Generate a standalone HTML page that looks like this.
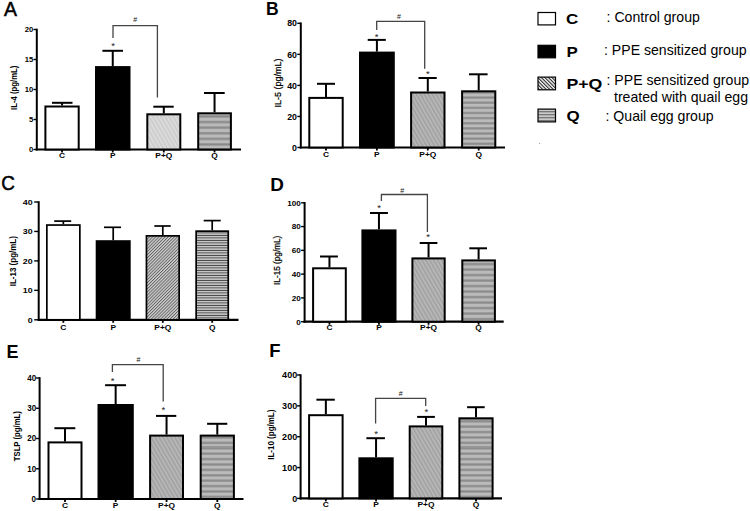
<!DOCTYPE html>
<html><head><meta charset="utf-8"><style>
html,body{margin:0;padding:0;background:#fff;}
svg{display:block;}
</style></head><body>
<svg width="750" height="511" viewBox="0 0 750 511">
<defs><pattern id="qsA" width="6" height="5.6" patternUnits="userSpaceOnUse" y="120.710"><rect width="6" height="5.6" fill="#bababa"/><rect width="6" height="2.5" fill="#8a8a8a"/><rect y="0.0" width="6" height="0.6" fill="#9c9c9c"/><rect y="1.9" width="6" height="0.6" fill="#9c9c9c"/></pattern><pattern id="qsB" width="6" height="5.13" patternUnits="userSpaceOnUse" y="101.450"><rect width="6" height="5.13" fill="#bababa"/><rect width="6" height="2.5" fill="#8a8a8a"/><rect y="0.0" width="6" height="0.6" fill="#9c9c9c"/><rect y="1.9" width="6" height="0.6" fill="#9c9c9c"/></pattern><pattern id="qsD" width="6" height="5.5" patternUnits="userSpaceOnUse" y="279.250"><rect width="6" height="5.5" fill="#bababa"/><rect width="6" height="2.5" fill="#8a8a8a"/><rect y="0.0" width="6" height="0.6" fill="#9c9c9c"/><rect y="1.9" width="6" height="0.6" fill="#9c9c9c"/></pattern><pattern id="qsE" width="6" height="5.4" patternUnits="userSpaceOnUse" y="-1.250"><rect width="6" height="5.4" fill="#bababa"/><rect width="6" height="2.5" fill="#8a8a8a"/><rect y="0.0" width="6" height="0.6" fill="#9c9c9c"/><rect y="1.9" width="6" height="0.6" fill="#9c9c9c"/></pattern><pattern id="qsF" width="6" height="5.4" patternUnits="userSpaceOnUse" y="-1.250"><rect width="6" height="5.4" fill="#bababa"/><rect width="6" height="2.5" fill="#8a8a8a"/><rect y="0.0" width="6" height="0.6" fill="#9c9c9c"/><rect y="1.9" width="6" height="0.6" fill="#9c9c9c"/></pattern><pattern id="pqL" width="3.5" height="4" patternUnits="userSpaceOnUse" patternTransform="rotate(-30)"><rect width="3.5" height="4" fill="#dadada"/><rect width="1.3" height="4" fill="#cacaca"/></pattern><pattern id="pq" width="3.4" height="4" patternUnits="userSpaceOnUse" patternTransform="rotate(-30)"><rect width="3.4" height="4" fill="#b6b6b6"/><rect width="1.4" height="4" fill="#a0a0a0"/></pattern><pattern id="pqC" width="2.2" height="2.2" patternUnits="userSpaceOnUse" patternTransform="rotate(45)"><rect width="2.2" height="2.2" fill="#d0d0d0"/><rect width="0.9" height="2.2" fill="#606060"/></pattern><pattern id="qsC" width="6" height="2.5" patternUnits="userSpaceOnUse"><rect width="6" height="2.5" fill="#ababab"/><rect y="0" width="6" height="0.8" fill="#3a3a3a"/><rect y="1.3" width="6" height="0.6" fill="#f2f2f2"/></pattern><pattern id="lpq" width="2.5" height="3" patternUnits="userSpaceOnUse" patternTransform="rotate(-45)"><rect width="2.5" height="3" fill="#eeeeee"/><rect width="1.0" height="3" fill="#222"/></pattern><pattern id="lq" width="3" height="3" patternUnits="userSpaceOnUse"><rect width="3" height="3" fill="#777"/><rect y="1.6" width="3" height="1" fill="#fff"/></pattern></defs>
<rect width="750" height="511" fill="#fff"/>
<text transform="translate(3.90,16.20) scale(0.95,1)" font-family="Liberation Sans" font-weight="normal" font-size="20.5" text-anchor="start" fill="#000" stroke="#000" stroke-width="0.55">A</text>
<line x1="36.8" y1="28.7" x2="36.8" y2="150.5" stroke="#000" stroke-width="2"/>
<line x1="33.5" y1="149.50" x2="36.8" y2="149.50" stroke="#000" stroke-width="1.4"/>
<text transform="translate(33.20,152.33) scale(0.97,1)" font-family="Liberation Sans" font-weight="bold" font-size="7.9" text-anchor="end" fill="#000">0</text>
<line x1="33.5" y1="119.50" x2="36.8" y2="119.50" stroke="#000" stroke-width="1.4"/>
<text transform="translate(33.20,122.33) scale(0.97,1)" font-family="Liberation Sans" font-weight="bold" font-size="7.9" text-anchor="end" fill="#000">5</text>
<line x1="33.5" y1="89.50" x2="36.8" y2="89.50" stroke="#000" stroke-width="1.4"/>
<text transform="translate(33.20,92.33) scale(0.97,1)" font-family="Liberation Sans" font-weight="bold" font-size="7.9" text-anchor="end" fill="#000">10</text>
<line x1="33.5" y1="59.50" x2="36.8" y2="59.50" stroke="#000" stroke-width="1.4"/>
<text transform="translate(33.20,62.33) scale(0.97,1)" font-family="Liberation Sans" font-weight="bold" font-size="7.9" text-anchor="end" fill="#000">15</text>
<line x1="33.5" y1="29.50" x2="36.8" y2="29.50" stroke="#000" stroke-width="1.4"/>
<text transform="translate(33.20,32.33) scale(0.97,1)" font-family="Liberation Sans" font-weight="bold" font-size="7.9" text-anchor="end" fill="#000">20</text>
<line x1="35.8" y1="149.5" x2="241" y2="149.5" stroke="#000" stroke-width="2.2"/>
<rect x="45.4" y="106.5" width="33.300000000000004" height="43.0" fill="#fff" stroke="#000" stroke-width="2"/>
<line x1="62.05" y1="105.5" x2="62.05" y2="102.8" stroke="#000" stroke-width="2"/>
<line x1="52" y1="102.8" x2="72.5" y2="102.8" stroke="#000" stroke-width="2"/>
<line x1="62.05" y1="149.5" x2="62.05" y2="152.5" stroke="#000" stroke-width="1.8"/>
<text transform="translate(62.05,158.30) scale(1.05,1)" font-family="Liberation Sans" font-weight="bold" font-size="8.0" text-anchor="middle" fill="#000">C</text>
<rect x="96.0" y="67.1" width="33.5" height="82.4" fill="#000" stroke="#000" stroke-width="2"/>
<line x1="112.75" y1="66.1" x2="112.75" y2="50.8" stroke="#000" stroke-width="2"/>
<line x1="102.4" y1="50.8" x2="123" y2="50.8" stroke="#000" stroke-width="2"/>
<line x1="112.75" y1="149.5" x2="112.75" y2="152.5" stroke="#000" stroke-width="1.8"/>
<text transform="translate(112.75,158.30) scale(1.05,1)" font-family="Liberation Sans" font-weight="bold" font-size="8.0" text-anchor="middle" fill="#000">P</text>
<rect x="147.3" y="114.3" width="33.0" height="35.2" fill="url(#pqL)" stroke="#000" stroke-width="2"/>
<line x1="163.8" y1="113.3" x2="163.8" y2="106.7" stroke="#000" stroke-width="2"/>
<line x1="153.3" y1="106.7" x2="173.7" y2="106.7" stroke="#000" stroke-width="2"/>
<line x1="163.8" y1="149.5" x2="163.8" y2="152.5" stroke="#000" stroke-width="1.8"/>
<text transform="translate(163.80,158.30) scale(1.05,1)" font-family="Liberation Sans" font-weight="bold" font-size="8.0" text-anchor="middle" fill="#000">P+Q</text>
<rect x="198.2" y="113.3" width="32.70000000000002" height="36.2" fill="url(#qsA)" stroke="#000" stroke-width="2"/>
<line x1="214.55" y1="112.3" x2="214.55" y2="93" stroke="#000" stroke-width="2"/>
<line x1="204" y1="93" x2="224.7" y2="93" stroke="#000" stroke-width="2"/>
<line x1="214.55" y1="149.5" x2="214.55" y2="152.5" stroke="#000" stroke-width="1.8"/>
<text transform="translate(214.55,158.30) scale(1.05,1)" font-family="Liberation Sans" font-weight="bold" font-size="8.0" text-anchor="middle" fill="#000">Q</text>
<text transform="translate(17.2,87.8) rotate(-90) scale(0.88,1)" font-family="Liberation Sans" font-weight="bold" font-size="8.8" text-anchor="middle">IL-4 (pg/mL)</text>
<polyline points="113,38 113,25.6 157.4,25.6 157.4,97.5" fill="none" stroke="#444" stroke-width="1.3"/>
<text transform="translate(135.20,22.20) scale(1.0,1)" font-family="Liberation Sans" font-size="7" text-anchor="middle" fill="#111">#</text>
<text transform="translate(113.00,48.70) scale(1.0,1)" font-family="Liberation Sans" font-size="9.5" text-anchor="middle" fill="#222">*</text>
<text transform="translate(266.00,14.60) scale(1.0,1)" font-family="Liberation Sans" font-weight="bold" font-size="17.5" text-anchor="start" fill="#000">B</text>
<line x1="300.8" y1="22.5" x2="300.8" y2="148.5" stroke="#000" stroke-width="2"/>
<line x1="297.3" y1="147.50" x2="300.8" y2="147.50" stroke="#000" stroke-width="1.4"/>
<text transform="translate(297.00,150.65) scale(1.0,1)" font-family="Liberation Sans" font-weight="bold" font-size="8.8" text-anchor="end" fill="#000">0</text>
<line x1="297.3" y1="116.45" x2="300.8" y2="116.45" stroke="#000" stroke-width="1.4"/>
<text transform="translate(297.00,119.60) scale(1.0,1)" font-family="Liberation Sans" font-weight="bold" font-size="8.8" text-anchor="end" fill="#000">20</text>
<line x1="297.3" y1="85.40" x2="300.8" y2="85.40" stroke="#000" stroke-width="1.4"/>
<text transform="translate(297.00,88.55) scale(1.0,1)" font-family="Liberation Sans" font-weight="bold" font-size="8.8" text-anchor="end" fill="#000">40</text>
<line x1="297.3" y1="54.35" x2="300.8" y2="54.35" stroke="#000" stroke-width="1.4"/>
<text transform="translate(297.00,57.50) scale(1.0,1)" font-family="Liberation Sans" font-weight="bold" font-size="8.8" text-anchor="end" fill="#000">60</text>
<line x1="297.3" y1="23.30" x2="300.8" y2="23.30" stroke="#000" stroke-width="1.4"/>
<text transform="translate(297.00,26.45) scale(1.0,1)" font-family="Liberation Sans" font-weight="bold" font-size="8.8" text-anchor="end" fill="#000">80</text>
<line x1="299.8" y1="147.5" x2="505" y2="147.5" stroke="#000" stroke-width="2.2"/>
<rect x="309.3" y="97.9" width="33.39999999999998" height="49.599999999999994" fill="#fff" stroke="#000" stroke-width="2"/>
<line x1="326.0" y1="96.9" x2="326.0" y2="83.8" stroke="#000" stroke-width="2"/>
<line x1="317" y1="83.8" x2="335" y2="83.8" stroke="#000" stroke-width="2"/>
<line x1="326.0" y1="147.5" x2="326.0" y2="150.5" stroke="#000" stroke-width="1.8"/>
<text transform="translate(326.00,156.60) scale(1.05,1)" font-family="Liberation Sans" font-weight="bold" font-size="8.0" text-anchor="middle" fill="#000">C</text>
<rect x="360.0" y="52.6" width="33.80000000000001" height="94.9" fill="#000" stroke="#000" stroke-width="2"/>
<line x1="376.9" y1="51.6" x2="376.9" y2="39.9" stroke="#000" stroke-width="2"/>
<line x1="367.7" y1="39.9" x2="385.8" y2="39.9" stroke="#000" stroke-width="2"/>
<line x1="376.9" y1="147.5" x2="376.9" y2="150.5" stroke="#000" stroke-width="1.8"/>
<text transform="translate(376.90,156.60) scale(1.05,1)" font-family="Liberation Sans" font-weight="bold" font-size="8.0" text-anchor="middle" fill="#000">P</text>
<rect x="411.1" y="92.5" width="33.39999999999998" height="55.0" fill="url(#pq)" stroke="#000" stroke-width="2"/>
<line x1="427.8" y1="91.5" x2="427.8" y2="78" stroke="#000" stroke-width="2"/>
<line x1="418.5" y1="78" x2="436.7" y2="78" stroke="#000" stroke-width="2"/>
<line x1="427.8" y1="147.5" x2="427.8" y2="150.5" stroke="#000" stroke-width="1.8"/>
<text transform="translate(427.80,156.60) scale(1.05,1)" font-family="Liberation Sans" font-weight="bold" font-size="8.0" text-anchor="middle" fill="#000">P+Q</text>
<rect x="462.1" y="91.3" width="33.19999999999999" height="56.2" fill="url(#qsB)" stroke="#000" stroke-width="2"/>
<line x1="478.70000000000005" y1="90.3" x2="478.70000000000005" y2="74.3" stroke="#000" stroke-width="2"/>
<line x1="469" y1="74.3" x2="487.6" y2="74.3" stroke="#000" stroke-width="2"/>
<line x1="478.70000000000005" y1="147.5" x2="478.70000000000005" y2="150.5" stroke="#000" stroke-width="1.8"/>
<text transform="translate(478.70,156.60) scale(1.05,1)" font-family="Liberation Sans" font-weight="bold" font-size="8.0" text-anchor="middle" fill="#000">Q</text>
<text transform="translate(281,83) rotate(-90) scale(1.02,1)" font-family="Liberation Sans" font-weight="normal" font-size="8.8" text-anchor="middle" stroke="#000" stroke-width="0.25">IL-5 (pg/mL)</text>
<polyline points="376.7,29.9 376.7,21.3 424.7,21.3 424.7,68.7" fill="none" stroke="#444" stroke-width="1.3"/>
<text transform="translate(399.00,19.00) scale(1.0,1)" font-family="Liberation Sans" font-size="7" text-anchor="middle" fill="#111">#</text>
<text transform="translate(376.70,39.90) scale(1.0,1)" font-family="Liberation Sans" font-size="9.5" text-anchor="middle" fill="#222">*</text>
<text transform="translate(427.90,76.90) scale(1.0,1)" font-family="Liberation Sans" font-size="9.5" text-anchor="middle" fill="#222">*</text>
<text transform="translate(1.20,190.20) scale(0.9,1)" font-family="Liberation Sans" font-weight="normal" font-size="21" text-anchor="start" fill="#000" stroke="#000" stroke-width="0.55">C</text>
<line x1="38.7" y1="201.2" x2="38.7" y2="320.8" stroke="#000" stroke-width="2"/>
<line x1="34.2" y1="319.80" x2="38.7" y2="319.80" stroke="#000" stroke-width="1.4"/>
<text transform="translate(32.60,322.56) scale(1.15,1)" font-family="Liberation Sans" font-weight="bold" font-size="7.7" text-anchor="end" fill="#000">0</text>
<line x1="34.2" y1="290.35" x2="38.7" y2="290.35" stroke="#000" stroke-width="1.4"/>
<text transform="translate(32.60,293.11) scale(1.15,1)" font-family="Liberation Sans" font-weight="bold" font-size="7.7" text-anchor="end" fill="#000">10</text>
<line x1="34.2" y1="260.90" x2="38.7" y2="260.90" stroke="#000" stroke-width="1.4"/>
<text transform="translate(32.60,263.66) scale(1.15,1)" font-family="Liberation Sans" font-weight="bold" font-size="7.7" text-anchor="end" fill="#000">20</text>
<line x1="34.2" y1="231.45" x2="38.7" y2="231.45" stroke="#000" stroke-width="1.4"/>
<text transform="translate(32.60,234.21) scale(1.15,1)" font-family="Liberation Sans" font-weight="bold" font-size="7.7" text-anchor="end" fill="#000">30</text>
<line x1="34.2" y1="202.00" x2="38.7" y2="202.00" stroke="#000" stroke-width="1.4"/>
<text transform="translate(32.60,204.76) scale(1.15,1)" font-family="Liberation Sans" font-weight="bold" font-size="7.7" text-anchor="end" fill="#000">40</text>
<line x1="37.7" y1="319.8" x2="238.5" y2="319.8" stroke="#000" stroke-width="2.2"/>
<rect x="46.85" y="225.04999999999998" width="33.0" height="94.75000000000003" fill="#fff" stroke="#000" stroke-width="1.7"/>
<line x1="63.35" y1="224.2" x2="63.35" y2="221.1" stroke="#000" stroke-width="1.7"/>
<line x1="54.2" y1="221.1" x2="71.2" y2="221.1" stroke="#000" stroke-width="1.7"/>
<line x1="63.35" y1="319.8" x2="63.35" y2="322.8" stroke="#000" stroke-width="1.8"/>
<text transform="translate(63.35,330.00) scale(1.05,1)" font-family="Liberation Sans" font-weight="bold" font-size="8.0" text-anchor="middle" fill="#000">C</text>
<rect x="96.55" y="241.04999999999998" width="33.29999999999998" height="78.75000000000003" fill="#000" stroke="#000" stroke-width="1.7"/>
<line x1="113.19999999999999" y1="240.2" x2="113.19999999999999" y2="227.3" stroke="#000" stroke-width="1.7"/>
<line x1="104" y1="227.3" x2="121" y2="227.3" stroke="#000" stroke-width="1.7"/>
<line x1="113.19999999999999" y1="319.8" x2="113.19999999999999" y2="322.8" stroke="#000" stroke-width="1.8"/>
<text transform="translate(113.20,330.00) scale(1.05,1)" font-family="Liberation Sans" font-weight="bold" font-size="8.0" text-anchor="middle" fill="#000">P</text>
<rect x="146.45" y="235.85" width="32.7" height="83.95000000000002" fill="url(#pqC)" stroke="#000" stroke-width="1.7"/>
<line x1="162.8" y1="235" x2="162.8" y2="226" stroke="#000" stroke-width="1.7"/>
<line x1="154.3" y1="226" x2="170.7" y2="226" stroke="#000" stroke-width="1.7"/>
<line x1="162.8" y1="319.8" x2="162.8" y2="322.8" stroke="#000" stroke-width="1.8"/>
<text transform="translate(162.80,330.00) scale(1.05,1)" font-family="Liberation Sans" font-weight="bold" font-size="8.0" text-anchor="middle" fill="#000">P+Q</text>
<rect x="196.15" y="231.15" width="32.09999999999998" height="88.65" fill="url(#qsC)" stroke="#000" stroke-width="1.7"/>
<line x1="212.2" y1="230.3" x2="212.2" y2="220.6" stroke="#000" stroke-width="1.7"/>
<line x1="203.7" y1="220.6" x2="220.7" y2="220.6" stroke="#000" stroke-width="1.7"/>
<line x1="212.2" y1="319.8" x2="212.2" y2="322.8" stroke="#000" stroke-width="1.8"/>
<text transform="translate(212.20,330.00) scale(1.05,1)" font-family="Liberation Sans" font-weight="bold" font-size="8.0" text-anchor="middle" fill="#000">Q</text>
<text transform="translate(16.0,261.2) rotate(-90) scale(0.91,1)" font-family="Liberation Sans" font-weight="bold" font-size="8.8" text-anchor="middle">IL-13 (pg/mL)</text>
<text transform="translate(270.20,191.40) scale(1.05,1)" font-family="Liberation Sans" font-weight="bold" font-size="18" text-anchor="start" fill="#000">D</text>
<line x1="304.6" y1="202.0" x2="304.6" y2="322.7" stroke="#000" stroke-width="2"/>
<line x1="301.1" y1="321.70" x2="304.6" y2="321.70" stroke="#000" stroke-width="1.4"/>
<text transform="translate(300.80,324.53) scale(1.03,1)" font-family="Liberation Sans" font-weight="bold" font-size="7.9" text-anchor="end" fill="#000">0</text>
<line x1="301.1" y1="297.92" x2="304.6" y2="297.92" stroke="#000" stroke-width="1.4"/>
<text transform="translate(300.80,300.75) scale(1.03,1)" font-family="Liberation Sans" font-weight="bold" font-size="7.9" text-anchor="end" fill="#000">20</text>
<line x1="301.1" y1="274.14" x2="304.6" y2="274.14" stroke="#000" stroke-width="1.4"/>
<text transform="translate(300.80,276.97) scale(1.03,1)" font-family="Liberation Sans" font-weight="bold" font-size="7.9" text-anchor="end" fill="#000">40</text>
<line x1="301.1" y1="250.36" x2="304.6" y2="250.36" stroke="#000" stroke-width="1.4"/>
<text transform="translate(300.80,253.19) scale(1.03,1)" font-family="Liberation Sans" font-weight="bold" font-size="7.9" text-anchor="end" fill="#000">60</text>
<line x1="301.1" y1="226.58" x2="304.6" y2="226.58" stroke="#000" stroke-width="1.4"/>
<text transform="translate(300.80,229.41) scale(1.03,1)" font-family="Liberation Sans" font-weight="bold" font-size="7.9" text-anchor="end" fill="#000">80</text>
<line x1="301.1" y1="202.80" x2="304.6" y2="202.80" stroke="#000" stroke-width="1.4"/>
<text transform="translate(300.80,205.63) scale(1.03,1)" font-family="Liberation Sans" font-weight="bold" font-size="7.9" text-anchor="end" fill="#000">100</text>
<line x1="303.6" y1="321.7" x2="503.7" y2="321.7" stroke="#000" stroke-width="2.2"/>
<rect x="313.1" y="268.3" width="32.69999999999999" height="53.39999999999998" fill="#fff" stroke="#000" stroke-width="2"/>
<line x1="329.45000000000005" y1="267.3" x2="329.45000000000005" y2="256.5" stroke="#000" stroke-width="2"/>
<line x1="320" y1="256.5" x2="337.9" y2="256.5" stroke="#000" stroke-width="2"/>
<line x1="329.45000000000005" y1="321.7" x2="329.45000000000005" y2="324.7" stroke="#000" stroke-width="1.8"/>
<text transform="translate(329.45,330.30) scale(1.05,1)" font-family="Liberation Sans" font-weight="bold" font-size="8.0" text-anchor="middle" fill="#000">C</text>
<rect x="362.4" y="230.4" width="33.10000000000002" height="91.29999999999998" fill="#000" stroke="#000" stroke-width="2"/>
<line x1="378.95" y1="229.4" x2="378.95" y2="213" stroke="#000" stroke-width="2"/>
<line x1="370" y1="213" x2="387.9" y2="213" stroke="#000" stroke-width="2"/>
<line x1="378.95" y1="321.7" x2="378.95" y2="324.7" stroke="#000" stroke-width="1.8"/>
<text transform="translate(378.95,330.30) scale(1.05,1)" font-family="Liberation Sans" font-weight="bold" font-size="8.0" text-anchor="middle" fill="#000">P</text>
<rect x="412.4" y="258.4" width="32.30000000000001" height="63.30000000000001" fill="url(#pq)" stroke="#000" stroke-width="2"/>
<line x1="428.54999999999995" y1="257.4" x2="428.54999999999995" y2="243" stroke="#000" stroke-width="2"/>
<line x1="419.7" y1="243" x2="437.4" y2="243" stroke="#000" stroke-width="2"/>
<line x1="428.54999999999995" y1="321.7" x2="428.54999999999995" y2="324.7" stroke="#000" stroke-width="1.8"/>
<text transform="translate(428.55,330.30) scale(1.05,1)" font-family="Liberation Sans" font-weight="bold" font-size="8.0" text-anchor="middle" fill="#000">P+Q</text>
<rect x="462.3" y="260.4" width="32.599999999999966" height="61.30000000000001" fill="url(#qsD)" stroke="#000" stroke-width="2"/>
<line x1="478.6" y1="259.4" x2="478.6" y2="248.3" stroke="#000" stroke-width="2"/>
<line x1="469.3" y1="248.3" x2="487" y2="248.3" stroke="#000" stroke-width="2"/>
<line x1="478.6" y1="321.7" x2="478.6" y2="324.7" stroke="#000" stroke-width="1.8"/>
<text transform="translate(478.60,330.30) scale(1.05,1)" font-family="Liberation Sans" font-weight="bold" font-size="8.0" text-anchor="middle" fill="#000">Q</text>
<text transform="translate(279.5,260.3) rotate(-90) scale(0.98,1)" font-family="Liberation Sans" font-weight="normal" font-size="8.4" text-anchor="middle" stroke="#000" stroke-width="0.25">IL-15 (pg/mL)</text>
<polyline points="381.4,201 381.4,194.5 427.4,194.5 427.4,231.9" fill="none" stroke="#444" stroke-width="1.3"/>
<text transform="translate(402.30,192.70) scale(1.0,1)" font-family="Liberation Sans" font-size="7" text-anchor="middle" fill="#111">#</text>
<text transform="translate(379.00,211.30) scale(1.0,1)" font-family="Liberation Sans" font-size="9.5" text-anchor="middle" fill="#222">*</text>
<text transform="translate(428.00,239.80) scale(1.0,1)" font-family="Liberation Sans" font-size="9.5" text-anchor="middle" fill="#222">*</text>
<text transform="translate(6.40,357.90) scale(1.0,1)" font-family="Liberation Sans" font-weight="bold" font-size="18" text-anchor="start" fill="#000">E</text>
<line x1="39.6" y1="377.2" x2="39.6" y2="500" stroke="#000" stroke-width="2"/>
<line x1="36.1" y1="499.00" x2="39.6" y2="499.00" stroke="#000" stroke-width="1.4"/>
<text transform="translate(36.10,501.97) scale(0.97,1)" font-family="Liberation Sans" font-weight="bold" font-size="8.3" text-anchor="end" fill="#000">0</text>
<line x1="36.1" y1="468.75" x2="39.6" y2="468.75" stroke="#000" stroke-width="1.4"/>
<text transform="translate(36.10,471.72) scale(0.97,1)" font-family="Liberation Sans" font-weight="bold" font-size="8.3" text-anchor="end" fill="#000">10</text>
<line x1="36.1" y1="438.50" x2="39.6" y2="438.50" stroke="#000" stroke-width="1.4"/>
<text transform="translate(36.10,441.47) scale(0.97,1)" font-family="Liberation Sans" font-weight="bold" font-size="8.3" text-anchor="end" fill="#000">20</text>
<line x1="36.1" y1="408.25" x2="39.6" y2="408.25" stroke="#000" stroke-width="1.4"/>
<text transform="translate(36.10,411.22) scale(0.97,1)" font-family="Liberation Sans" font-weight="bold" font-size="8.3" text-anchor="end" fill="#000">30</text>
<line x1="36.1" y1="378.00" x2="39.6" y2="378.00" stroke="#000" stroke-width="1.4"/>
<text transform="translate(36.10,380.97) scale(0.97,1)" font-family="Liberation Sans" font-weight="bold" font-size="8.3" text-anchor="end" fill="#000">40</text>
<line x1="38.6" y1="499" x2="243.5" y2="499" stroke="#000" stroke-width="2.2"/>
<rect x="48.5" y="442.4" width="33.0" height="56.60000000000002" fill="#fff" stroke="#000" stroke-width="2"/>
<line x1="65.0" y1="441.4" x2="65.0" y2="428.2" stroke="#000" stroke-width="2"/>
<line x1="54.4" y1="428.2" x2="75.3" y2="428.2" stroke="#000" stroke-width="2"/>
<line x1="65.0" y1="499" x2="65.0" y2="502" stroke="#000" stroke-width="1.8"/>
<text transform="translate(65.00,507.80) scale(1.05,1)" font-family="Liberation Sans" font-weight="bold" font-size="8.0" text-anchor="middle" fill="#000">C</text>
<rect x="98.5" y="405.0" width="34.30000000000001" height="94.0" fill="#000" stroke="#000" stroke-width="2"/>
<line x1="115.65" y1="404" x2="115.65" y2="385.2" stroke="#000" stroke-width="2"/>
<line x1="105.1" y1="385.2" x2="126" y2="385.2" stroke="#000" stroke-width="2"/>
<line x1="115.65" y1="499" x2="115.65" y2="502" stroke="#000" stroke-width="1.8"/>
<text transform="translate(115.65,507.80) scale(1.05,1)" font-family="Liberation Sans" font-weight="bold" font-size="8.0" text-anchor="middle" fill="#000">P</text>
<rect x="150.1" y="435.6" width="32.900000000000006" height="63.39999999999998" fill="url(#pq)" stroke="#000" stroke-width="2"/>
<line x1="166.55" y1="434.6" x2="166.55" y2="415.9" stroke="#000" stroke-width="2"/>
<line x1="156" y1="415.9" x2="176.3" y2="415.9" stroke="#000" stroke-width="2"/>
<line x1="166.55" y1="499" x2="166.55" y2="502" stroke="#000" stroke-width="1.8"/>
<text transform="translate(166.55,507.80) scale(1.05,1)" font-family="Liberation Sans" font-weight="bold" font-size="8.0" text-anchor="middle" fill="#000">P+Q</text>
<rect x="200.7" y="435.6" width="33.20000000000002" height="63.39999999999998" fill="url(#qsE)" stroke="#000" stroke-width="2"/>
<line x1="217.3" y1="434.6" x2="217.3" y2="423.8" stroke="#000" stroke-width="2"/>
<line x1="207.1" y1="423.8" x2="227.3" y2="423.8" stroke="#000" stroke-width="2"/>
<line x1="217.3" y1="499" x2="217.3" y2="502" stroke="#000" stroke-width="1.8"/>
<text transform="translate(217.30,507.80) scale(1.05,1)" font-family="Liberation Sans" font-weight="bold" font-size="8.0" text-anchor="middle" fill="#000">Q</text>
<text transform="translate(19.8,436.2) rotate(-90) scale(0.88,1)" font-family="Liberation Sans" font-weight="bold" font-size="8.8" text-anchor="middle">TSLP (pg/mL)</text>
<polyline points="112.4,372 112.4,364.6 163.2,364.6 163.2,401.6" fill="none" stroke="#444" stroke-width="1.3"/>
<text transform="translate(138.40,361.80) scale(1.0,1)" font-family="Liberation Sans" font-size="7" text-anchor="middle" fill="#111">#</text>
<text transform="translate(112.50,383.50) scale(1.0,1)" font-family="Liberation Sans" font-size="9.5" text-anchor="middle" fill="#222">*</text>
<text transform="translate(163.40,412.70) scale(1.0,1)" font-family="Liberation Sans" font-size="9.5" text-anchor="middle" fill="#222">*</text>
<text transform="translate(269.30,356.60) scale(1.0,1)" font-family="Liberation Sans" font-weight="bold" font-size="18.5" text-anchor="start" fill="#000">F</text>
<line x1="300.6" y1="374.2" x2="300.6" y2="499.4" stroke="#000" stroke-width="2"/>
<line x1="297.1" y1="498.40" x2="300.6" y2="498.40" stroke="#000" stroke-width="1.4"/>
<text transform="translate(297.20,501.51) scale(1.04,1)" font-family="Liberation Sans" font-weight="bold" font-size="8.7" text-anchor="end" fill="#000">0</text>
<line x1="297.1" y1="467.55" x2="300.6" y2="467.55" stroke="#000" stroke-width="1.4"/>
<text transform="translate(297.20,470.66) scale(1.04,1)" font-family="Liberation Sans" font-weight="bold" font-size="8.7" text-anchor="end" fill="#000">100</text>
<line x1="297.1" y1="436.70" x2="300.6" y2="436.70" stroke="#000" stroke-width="1.4"/>
<text transform="translate(297.20,439.81) scale(1.04,1)" font-family="Liberation Sans" font-weight="bold" font-size="8.7" text-anchor="end" fill="#000">200</text>
<line x1="297.1" y1="405.85" x2="300.6" y2="405.85" stroke="#000" stroke-width="1.4"/>
<text transform="translate(297.20,408.96) scale(1.04,1)" font-family="Liberation Sans" font-weight="bold" font-size="8.7" text-anchor="end" fill="#000">300</text>
<line x1="297.1" y1="375.00" x2="300.6" y2="375.00" stroke="#000" stroke-width="1.4"/>
<text transform="translate(297.20,378.11) scale(1.04,1)" font-family="Liberation Sans" font-weight="bold" font-size="8.7" text-anchor="end" fill="#000">400</text>
<line x1="299.6" y1="498.4" x2="502" y2="498.4" stroke="#000" stroke-width="2.2"/>
<rect x="309.1" y="415.2" width="33.5" height="83.19999999999999" fill="#fff" stroke="#000" stroke-width="2"/>
<line x1="325.85" y1="414.2" x2="325.85" y2="399.7" stroke="#000" stroke-width="2"/>
<line x1="316.4" y1="399.7" x2="334.8" y2="399.7" stroke="#000" stroke-width="2"/>
<line x1="325.85" y1="498.4" x2="325.85" y2="501.4" stroke="#000" stroke-width="1.8"/>
<text transform="translate(325.85,507.00) scale(1.05,1)" font-family="Liberation Sans" font-weight="bold" font-size="8.0" text-anchor="middle" fill="#000">C</text>
<rect x="359.4" y="458.3" width="33.30000000000001" height="40.099999999999966" fill="#000" stroke="#000" stroke-width="2"/>
<line x1="376.04999999999995" y1="457.3" x2="376.04999999999995" y2="438.2" stroke="#000" stroke-width="2"/>
<line x1="366.4" y1="438.2" x2="384.9" y2="438.2" stroke="#000" stroke-width="2"/>
<line x1="376.04999999999995" y1="498.4" x2="376.04999999999995" y2="501.4" stroke="#000" stroke-width="1.8"/>
<text transform="translate(376.05,507.00) scale(1.05,1)" font-family="Liberation Sans" font-weight="bold" font-size="8.0" text-anchor="middle" fill="#000">P</text>
<rect x="409.7" y="426.4" width="32.60000000000002" height="72.0" fill="url(#pq)" stroke="#000" stroke-width="2"/>
<line x1="426.0" y1="425.4" x2="426.0" y2="416.9" stroke="#000" stroke-width="2"/>
<line x1="417.1" y1="416.9" x2="434.9" y2="416.9" stroke="#000" stroke-width="2"/>
<line x1="426.0" y1="498.4" x2="426.0" y2="501.4" stroke="#000" stroke-width="1.8"/>
<text transform="translate(426.00,507.00) scale(1.05,1)" font-family="Liberation Sans" font-weight="bold" font-size="8.0" text-anchor="middle" fill="#000">P+Q</text>
<rect x="459.4" y="418.3" width="33.200000000000045" height="80.09999999999997" fill="url(#qsF)" stroke="#000" stroke-width="2"/>
<line x1="476.0" y1="417.3" x2="476.0" y2="407.2" stroke="#000" stroke-width="2"/>
<line x1="467.1" y1="407.2" x2="484.7" y2="407.2" stroke="#000" stroke-width="2"/>
<line x1="476.0" y1="498.4" x2="476.0" y2="501.4" stroke="#000" stroke-width="1.8"/>
<text transform="translate(476.00,507.00) scale(1.05,1)" font-family="Liberation Sans" font-weight="bold" font-size="8.0" text-anchor="middle" fill="#000">Q</text>
<text transform="translate(273.7,434.7) rotate(-90) scale(0.91,1)" font-family="Liberation Sans" font-weight="bold" font-size="8.8" text-anchor="middle">IL-10 (pg/mL)</text>
<polyline points="375.6,423.6 375.6,398.4 425.7,398.4 425.7,405.9" fill="none" stroke="#444" stroke-width="1.3"/>
<text transform="translate(400.80,395.90) scale(1.0,1)" font-family="Liberation Sans" font-size="7" text-anchor="middle" fill="#111">#</text>
<text transform="translate(376.10,436.60) scale(1.0,1)" font-family="Liberation Sans" font-size="9.5" text-anchor="middle" fill="#222">*</text>
<text transform="translate(426.30,414.70) scale(1.0,1)" font-family="Liberation Sans" font-size="9.5" text-anchor="middle" fill="#222">*</text>
<rect x="538" y="12.5" width="17.5" height="12.399999999999999" fill="#fff" stroke="#000" stroke-width="1.2"/>
<rect x="538" y="45.3" width="17.5" height="12.5" fill="#000" stroke="#000" stroke-width="1.2"/>
<rect x="538" y="77.1" width="17.5" height="12.700000000000003" fill="url(#lpq)" stroke="#000" stroke-width="1.2"/>
<rect x="538" y="109.1" width="17.5" height="12.800000000000011" fill="url(#lq)" stroke="#000" stroke-width="1.2"/>
<text transform="translate(566.00,24.40) scale(1.13,1)" font-family="Liberation Sans" font-weight="bold" font-size="15" text-anchor="start" fill="#000">C</text>
<text transform="translate(566.50,57.00) scale(1.13,1)" font-family="Liberation Sans" font-weight="bold" font-size="15" text-anchor="start" fill="#000">P</text>
<text transform="translate(566.50,89.00) scale(1.18,1)" font-family="Liberation Sans" font-weight="bold" font-size="15" text-anchor="start" fill="#000">P+Q</text>
<text transform="translate(566.50,120.70) scale(1.13,1)" font-family="Liberation Sans" font-weight="bold" font-size="15" text-anchor="start" fill="#000">Q</text>
<text transform="translate(606.60,21.60) scale(1.0,1)" font-family="Liberation Sans" font-size="14.1" text-anchor="start" fill="#000">: Control group</text>
<text transform="translate(604.00,55.40) scale(1.0,1)" font-family="Liberation Sans" font-size="14.1" text-anchor="start" fill="#000">: PPE sensitized group</text>
<text transform="translate(606.50,85.20) scale(1.0,1)" font-family="Liberation Sans" font-size="14.1" text-anchor="start" fill="#000">: PPE sensitized group</text>
<text transform="translate(614.00,101.70) scale(1.0,1)" font-family="Liberation Sans" font-size="14.1" text-anchor="start" fill="#000">treated with quail egg</text>
<text transform="translate(605.50,120.80) scale(1.0,1)" font-family="Liberation Sans" font-size="14.1" text-anchor="start" fill="#000">: Quail egg group</text>
<circle cx="539.7" cy="143.2" r="0.5" fill="#666"/>
</svg>
</body></html>
